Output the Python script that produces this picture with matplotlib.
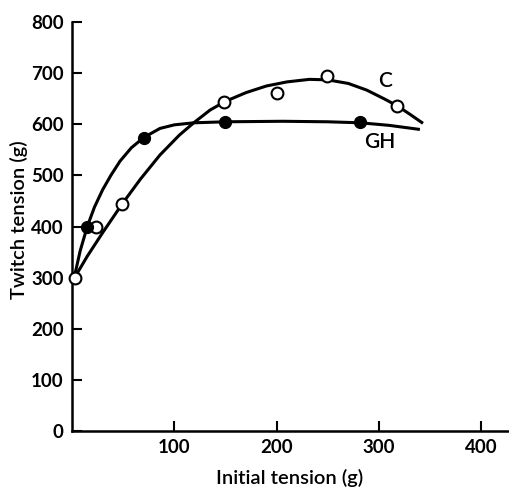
import numpy as np
import matplotlib.pyplot as plt

# measured points
c_x = [3, 24, 49, 149, 200, 249, 318]
c_y = [300, 400, 444, 643, 662, 695, 636]
gh_x = [15, 70, 150, 281]
gh_y = [400, 574, 605, 605]

# fitted curves
c_curve_x = [2, 15, 30, 49, 67, 86, 105, 119, 135, 150, 170, 190, 210, 232, 250, 270, 288, 305, 318, 330, 343]
c_curve_y = [298, 342, 388, 444, 493, 540, 579, 603, 628, 645, 662, 675, 683, 688, 687, 680, 667, 650, 636, 620, 602]
gh_curve_x = [2, 8, 15, 22, 30, 38, 47, 58, 70, 86, 100, 119, 150, 206, 250, 282, 310, 340]
gh_curve_y = [298, 352, 400, 438, 472, 500, 528, 554, 574, 592, 599, 603, 605, 606, 605, 603, 598, 590]

plt.rcParams['font.family'] = ['Lato', 'DejaVu Sans']

fig = plt.figure(figsize=(5.1, 4.91), dpi=100)
ax = fig.add_axes([0.141, 0.122, 0.859, 0.833])

ax.plot(c_curve_x, c_curve_y, color='black', lw=2.2, solid_capstyle='butt', solid_joinstyle='round', zorder=2)
ax.plot(gh_curve_x, gh_curve_y, color='black', lw=2.2, solid_capstyle='butt', solid_joinstyle='round', zorder=2)
ax.plot(c_x, c_y, 'o', ms=8.5, mfc='white', mec='black', mew=1.5, zorder=3, clip_on=False)
ax.plot(gh_x, gh_y, 'o', ms=8.5, mfc='black', mec='black', zorder=3)

ax.text(306, 685, 'C', fontsize=15, fontweight='semibold', ha='center', va='center')
ax.text(301, 565, 'GH', fontsize=15, fontweight='semibold', ha='center', va='center')

ax.set_xlim(0, 428)
ax.set_ylim(0, 800)
ax.set_xticks([100, 200, 300, 400])
ax.set_yticks(np.arange(0, 801, 100))

for s in ['top', 'right']:
    ax.spines[s].set_visible(False)
for s in ['left', 'bottom']:
    ax.spines[s].set_linewidth(1.8)

ax.tick_params(direction='in', length=7, width=1.5, labelsize=13.5, pad=6)
for lab in ax.get_xticklabels() + ax.get_yticklabels():
    lab.set_fontweight('bold')

ax.set_xlabel('Initial tension (g)', fontsize=14.5, fontweight='semibold')
ax.set_ylabel('Twitch tension (g)', fontsize=14.5, fontweight='semibold')
ax.xaxis.set_label_coords(0.498, -0.092)
ax.yaxis.set_label_coords(-0.100, 0.516)

fig.savefig('out.png', dpi=100)
